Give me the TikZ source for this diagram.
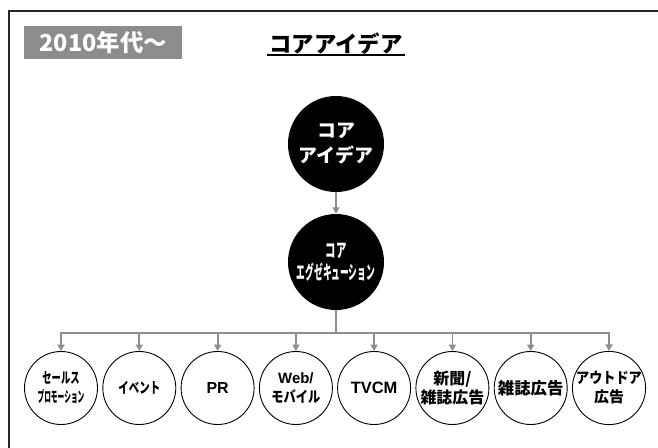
\documentclass[tikz,border=0pt]{standalone}
\usepackage{fontspec}
\usepackage{graphicx}
\newfontfamily\jp{Noto Sans CJK JP}
\newfontfamily\lat{Liberation Sans}
\usetikzlibrary{arrows.meta,calc}
\definecolor{lblgray}{HTML}{8C8C8C}
\definecolor{conngray}{HTML}{8E8E8E}
\newcommand{\sx}[2]{\scalebox{#1}[1]{#2}}
\begin{document}
\begin{tikzpicture}[x=1bp,y=-1bp,
  bigc/.style={circle,fill=black,minimum size=96bp,inner sep=0pt,text=white,align=center},
  smallc/.style={circle,draw=black,line width=0.9bp,minimum size=73bp,inner sep=0pt,align=center,
    font=\jp\bfseries\fontsize{15}{19}\selectfont},
  connline/.style={draw=conngray,line width=1.8bp},
  connarrow/.style={connline,-{Triangle[width=7bp,length=6.5bp]}}
]
\useasboundingbox (0,0) rectangle (658,448);
\clip (0,0) rectangle (658,448);
\fill[white] (0,0) rectangle (658,448);
% frame
\draw[line width=1.5bp,draw=black!85] (9,11) rectangle (720,520);
% label
\node[fill=lblgray,minimum width=158bp,minimum height=33bp,inner sep=0pt,anchor=north west,
  text=white,font=\jp\bfseries\fontsize{23.5}{24}\selectfont] (lbl) at (24,26) {2010年代〜};
% title
\node[inner sep=0pt,font=\jp\bfseries\fontsize{22.5}{24}\selectfont] (title) at (336,44) {コアアイデア};
\draw[line width=2bp] ($(title.south west)+(-2,0)$) -- ($(title.south east)+(2,0)$);
% big circles
\node[bigc,font=\jp\bfseries\fontsize{19}{25}\selectfont] (c1) at (336,144) {コア\\アイデア};
\node[bigc,font=\jp\bfseries\fontsize{19}{22}\selectfont] (c2) at (336,262) {\sx{0.55}{コア}\\\sx{0.46}{エグゼキューション}};
\draw[connarrow] (c1) -- (c2);
% bottom circles
\node[smallc] (b1) at (61,388) {\sx{0.62}{セールス}\\\sx{0.45}{プロモーション}};
\node[smallc] (b2) at (139.3,388) {\sx{0.7}{イベント}};
\node[smallc,font=\lat\bfseries\fontsize{16}{19}\selectfont] (b3) at (217.6,388) {PR};
\node[smallc] (b4) at (295.9,388) {{\lat\bfseries\fontsize{15}{19}\selectfont Web/}\\\sx{0.82}{モバイル}};
\node[smallc,font=\lat\bfseries\fontsize{16.5}{19}\selectfont] (b5) at (374.1,388) {TVCM};
\node[smallc,font=\jp\bfseries\fontsize{16}{19}\selectfont] (b6) at (452.4,388) {新聞/\\雑誌広告};
\node[smallc,font=\jp\bfseries\fontsize{16.5}{19}\selectfont] (b7) at (530.7,388) {雑誌広告};
\node[smallc] (b8) at (609,388) {\sx{0.88}{アウトドア}\\広告};
% connectors
\coordinate (j) at (336,333);
\draw[connline] (c2) -- (j);
\draw[connline,line cap=rect] (b1 |- j) -- (b8 |- j);
\foreach \i in {1,...,8}{
  \draw[connarrow] (b\i |- j) -- (b\i.north);
}
\end{tikzpicture}
\end{document}
